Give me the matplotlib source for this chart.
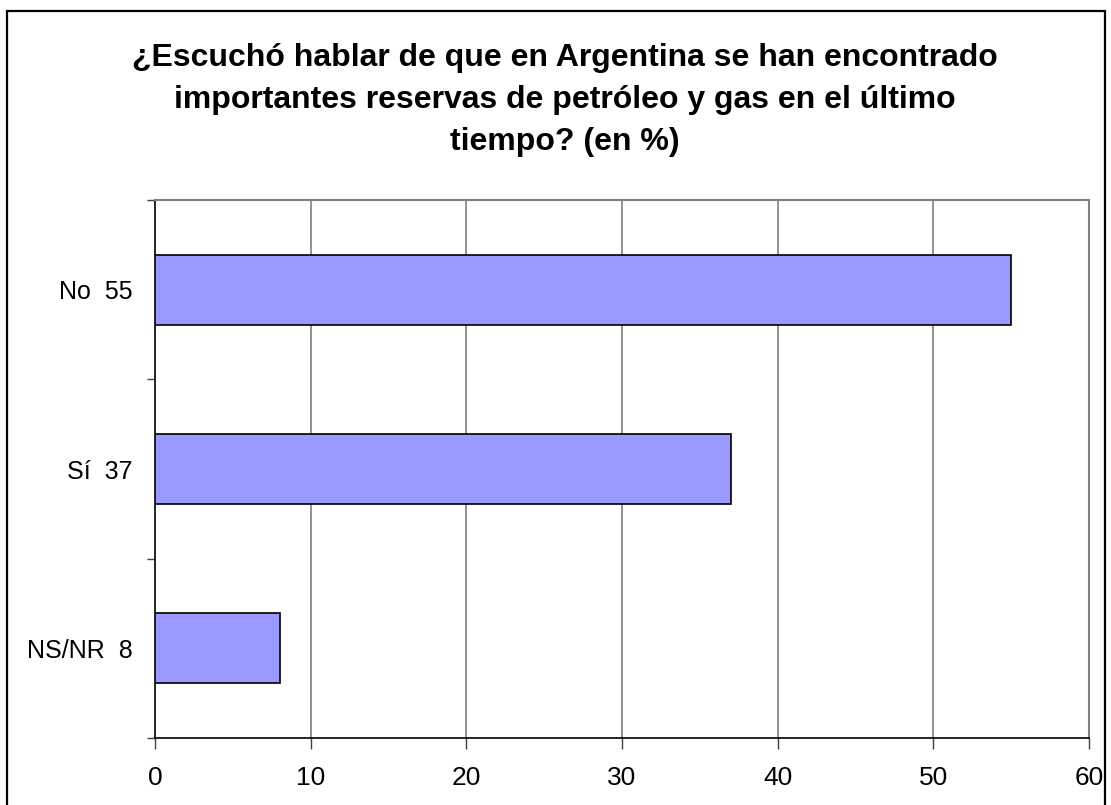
import matplotlib
matplotlib.use("Agg")
import matplotlib.pyplot as plt
from matplotlib.patches import Rectangle

categories = ["NS/NR  8", "Sí  37", "No  55"]
values = [8, 37, 55]
xticks = [0, 10, 20, 30, 40, 50, 60]
title_lines = ["¿Escuchó hablar de que en Argentina se han encontrado",
               "importantes reservas de petróleo y gas en el último",
               "tiempo? (en %)"]

plt.rcParams['font.family'] = ['Liberation Sans', 'DejaVu Sans']

fig = plt.figure(figsize=(11.11, 8.05), dpi=100)
ax = fig.add_axes([155/1111, 1-738/805, (1089-155)/1111, (738-200)/805])

ypos = list(range(len(categories)))
ax.barh(ypos, values, height=0.39, color='#9999FF', edgecolor='black', linewidth=1.2, zorder=3)

ax.set_xlim(0, 60)
ax.set_ylim(-0.5, len(categories) - 0.5)
ax.set_xticks(xticks)
ax.set_xticklabels([str(t) for t in xticks], fontsize=19)
ax.set_yticks([i - 0.5 for i in range(len(categories) + 1)])
ax.set_yticklabels([])
ax.set_yticks(ypos, minor=True)
ax.set_yticklabels(categories, minor=True, fontsize=18)
ax.tick_params(axis='y', which='minor', length=0, pad=16)
ax.tick_params(axis='y', which='major', length=6, width=1, color='#404040')
ax.tick_params(axis='x', length=8, width=1, color='#404040', pad=12)

for t in xticks[1:-1]:
    ax.axvline(t, color='#808080', linewidth=1.2, zorder=1)

ax.spines['top'].set_color('#808080')
ax.spines['right'].set_color('#808080')
ax.spines['top'].set_linewidth(1.5)
ax.spines['right'].set_linewidth(1.5)
ax.spines['left'].set_color('black')
ax.spines['bottom'].set_color('black')
ax.spines['left'].set_linewidth(1.2)
ax.spines['bottom'].set_linewidth(1.2)

baselines = [66, 108, 150]
for line, yb in zip(title_lines, baselines):
    fig.text(565/1111, 1 - yb/805, line, ha='center', va='baseline', fontsize=23,
             fontweight='bold')

fig.patches.append(Rectangle((7/1111, -0.05), (1105-7)/1111, 1.05 - 11/805,
                             transform=fig.transFigure, fill=False,
                             edgecolor='black', linewidth=1.6))

fig.savefig("out.png", dpi=100)
